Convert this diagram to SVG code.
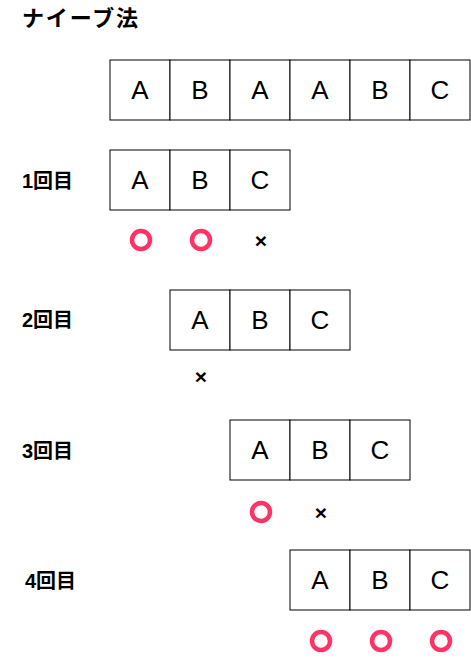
<svg xmlns="http://www.w3.org/2000/svg" width="471" height="663" viewBox="0 0 471 663">
<style>
.cell{fill:#fff;stroke:#000;stroke-width:1}
.ch{font-family:"Liberation Sans",Arial,sans-serif;font-size:26px;fill:#000;text-anchor:middle;dominant-baseline:central}
.lbl{font-family:"Liberation Sans","Noto Sans CJK JP",sans-serif;font-size:20px;font-weight:bold;fill:#000}
.ok{fill:none;stroke:#FF3366;stroke-width:4.5}
.ng{font-family:"Liberation Sans",sans-serif;font-size:21px;font-weight:bold;fill:#000;text-anchor:middle;dominant-baseline:central}
</style>
<rect width="471" height="663" fill="#fff"/>
<text class="lbl" x="22" y="26" style="font-size:22px" textLength="116">ナイーブ法</text>
<g id="text-row">
<rect class="cell" x="110" y="60" width="60" height="60"/><text class="ch" x="140" y="90">A</text>
<rect class="cell" x="170" y="60" width="60" height="60"/><text class="ch" x="200" y="90">B</text>
<rect class="cell" x="230" y="60" width="60" height="60"/><text class="ch" x="260" y="90">A</text>
<rect class="cell" x="290" y="60" width="60" height="60"/><text class="ch" x="320" y="90">A</text>
<rect class="cell" x="350" y="60" width="60" height="60"/><text class="ch" x="380" y="90">B</text>
<rect class="cell" x="410" y="60" width="60" height="60"/><text class="ch" x="440" y="90">C</text>
</g>
<g id="step1">
<text class="lbl" x="22" y="188">1回目</text>
<rect class="cell" x="110" y="150" width="60" height="60"/><text class="ch" x="140" y="180">A</text>
<rect class="cell" x="170" y="150" width="60" height="60"/><text class="ch" x="200" y="180">B</text>
<rect class="cell" x="230" y="150" width="60" height="60"/><text class="ch" x="260" y="180">C</text>
<circle class="ok" cx="141" cy="240" r="9"/>
<circle class="ok" cx="201" cy="240" r="9"/>
<text class="ng" x="261" y="240">×</text>
</g>
<g id="step2">
<text class="lbl" x="22" y="327">2回目</text>
<rect class="cell" x="170" y="290" width="60" height="60"/><text class="ch" x="200" y="320">A</text>
<rect class="cell" x="230" y="290" width="60" height="60"/><text class="ch" x="260" y="320">B</text>
<rect class="cell" x="290" y="290" width="60" height="60"/><text class="ch" x="320" y="320">C</text>
<text class="ng" x="201" y="376">×</text>
</g>
<g id="step3">
<text class="lbl" x="22" y="458">3回目</text>
<rect class="cell" x="230" y="420" width="60" height="60"/><text class="ch" x="260" y="450">A</text>
<rect class="cell" x="290" y="420" width="60" height="60"/><text class="ch" x="320" y="450">B</text>
<rect class="cell" x="350" y="420" width="60" height="60"/><text class="ch" x="380" y="450">C</text>
<circle class="ok" cx="261" cy="512" r="9"/>
<text class="ng" x="321" y="512">×</text>
</g>
<g id="step4">
<text class="lbl" x="25" y="588">4回目</text>
<rect class="cell" x="290" y="550" width="60" height="60"/><text class="ch" x="320" y="580">A</text>
<rect class="cell" x="350" y="550" width="60" height="60"/><text class="ch" x="380" y="580">B</text>
<rect class="cell" x="410" y="550" width="60" height="60"/><text class="ch" x="440" y="580">C</text>
<circle class="ok" cx="321" cy="641" r="9"/>
<circle class="ok" cx="381" cy="641" r="9"/>
<circle class="ok" cx="441" cy="641" r="9"/>
</g>
<g id="connectors"/>
</svg>
